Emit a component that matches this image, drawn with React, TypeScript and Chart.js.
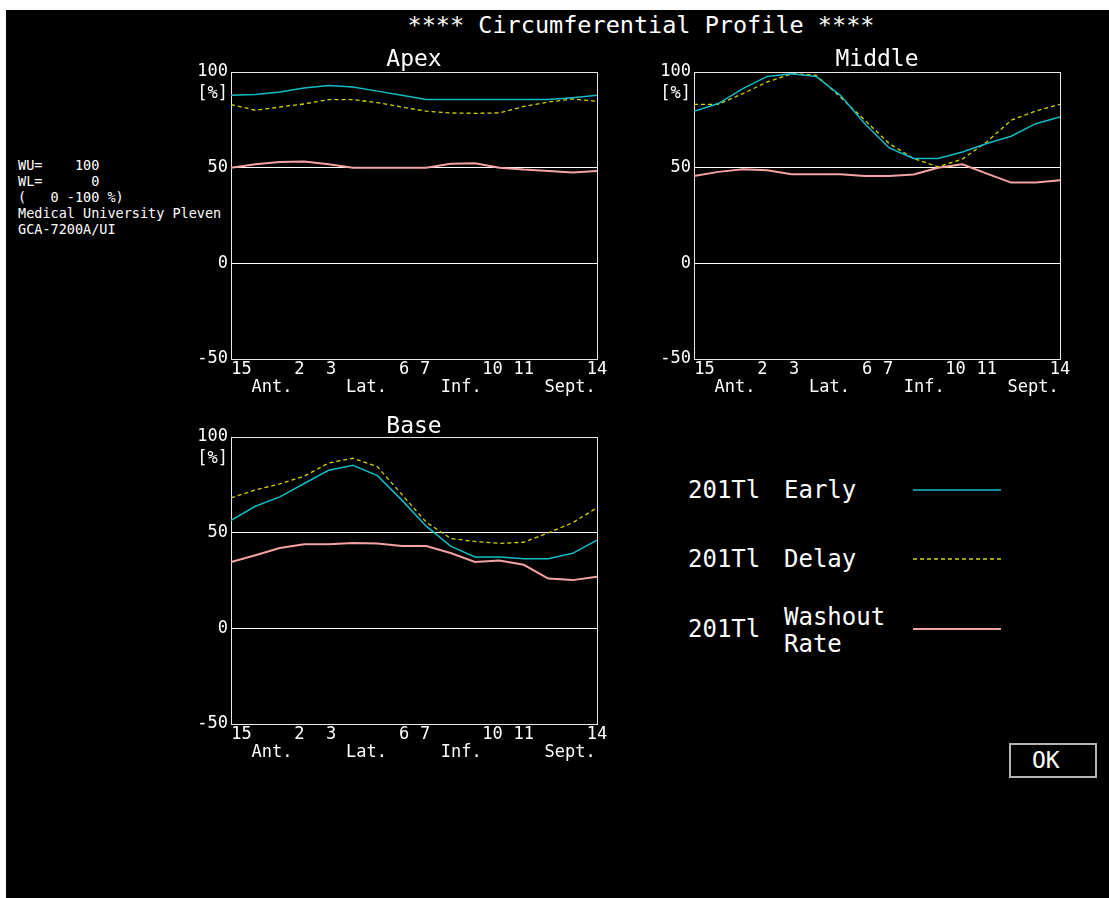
import React, { useEffect, useRef } from "react";
import { Chart, registerables } from "chart.js";

Chart.register(...registerables);

// ---------- data ----------
const SEGMENT_POS = [0, 1, 2, 3, 4, 5, 6, 7, 8, 9, 10, 11, 12, 13, 14, 15];

const NUMBER_TICK_POS = [0.43, 2.8, 4.1, 7.1, 7.96, 10.72, 12.0, 15];
const NUMBER_TICK_LABELS = ["15", "2", "3", "6", "7", "10", "11", "14"];
const REGION_TICK_POS = [1.68, 5.55, 9.44, 13.9];
const REGION_TICK_LABELS = ["Ant.", "Lat.", "Inf.", "Sept."];

const Y_TICK_POS = [-50, 0, 50, 88.5, 100];
const Y_TICK_LABELS = ["-50", "0", "50", "[%]", "100"];
const Y_REF_LINES = [0, 50];

const APEX_EARLY = [87.8, 88.3, 89.6, 91.6, 93, 92.2, 90, 87.8, 85.6, 85.6, 85.6, 85.6, 85.6, 85.6, 86.6, 87.8];
const APEX_DELAY = [83, 80, 81.7, 83.3, 85.6, 85.6, 84, 81.7, 79.5, 78.6, 78.4, 78.6, 82, 84.3, 85.9, 84.7];
const APEX_WASHOUT = [50, 51.8, 53, 53.2, 51.8, 50, 50, 50, 50, 52, 52.3, 50, 49, 48.3, 47.5, 48.3];

const MIDDLE_EARLY = [79.5, 83.5, 91.3, 97.7, 99.1, 97.7, 87.8, 73, 60.3, 54.8, 54.8, 58.2, 62.6, 66.4, 73, 76.5];
const MIDDLE_DELAY = [83.1, 83.1, 88.7, 94.8, 99.1, 98.3, 86.9, 74.8, 62.6, 54.8, 50.4, 54.5, 63.5, 74.8, 79.6, 83.1];
const MIDDLE_WASHOUT = [45.7, 47.8, 49.2, 48.7, 46.6, 46.6, 46.6, 45.7, 45.7, 46.4, 50, 51.8, 46.9, 42.2, 42.2, 43.4];

const BASE_EARLY = [56.4, 63.8, 68.7, 75.7, 82.6, 85.2, 79.8, 67, 53.4, 43, 37.3, 37.3, 36.4, 36.4, 39.2, 46.1];
const BASE_DELAY = [68.2, 72.3, 75.5, 79.5, 86.4, 88.9, 84.5, 70, 55.5, 47, 45.4, 44.4, 45, 49.9, 55.2, 63];
const BASE_WASHOUT = [34.7, 38.2, 42, 43.9, 43.9, 44.6, 44.4, 43, 43, 39.4, 34.7, 35.5, 33.2, 26, 25.2, 27];

const SERIES_NAMES = ["201Tl Early", "201Tl Delay", "201Tl Washout Rate"];

// ---------- styles ----------
const MONO = "'DejaVu Sans Mono', 'Liberation Mono', monospace";
const EARLY_COLOR = "#12bcc6";
const DELAY_COLOR = "#d4d400";
const WASHOUT_COLOR = "#f4a2a2";
const FRAME_COLOR = "#e8e8e8";

const framePlugin = {
  id: "frame",
  beforeDatasetsDraw(chart: any) {
    const { ctx, chartArea } = chart;
    const { left, top, right, bottom } = chartArea;
    ctx.save();
    ctx.strokeStyle = FRAME_COLOR;
    ctx.lineWidth = 1;
    ctx.strokeRect(Math.round(left) + 0.5, Math.round(top) + 0.5, Math.round(right - left), Math.round(bottom - top));
    ctx.restore();
  },
};

function makeConfig(title: string, early: number[], delay: number[], washout: number[], titlePadTop: number): any {
  const toPts = (vals: number[]) => SEGMENT_POS.map((x, i) => ({ x, y: vals[i] }));
  return {
    type: "line",
    data: {
      datasets: [
        {
          label: SERIES_NAMES[0],
          data: toPts(early),
          borderColor: EARLY_COLOR,
          borderWidth: 1.5,
          pointRadius: 0,
          tension: 0,
        },
        {
          label: SERIES_NAMES[1],
          data: toPts(delay),
          borderColor: DELAY_COLOR,
          borderWidth: 1.3,
          borderDash: [4, 3],
          pointRadius: 0,
          tension: 0,
        },
        {
          label: SERIES_NAMES[2],
          data: toPts(washout),
          borderColor: WASHOUT_COLOR,
          borderWidth: 2,
          pointRadius: 0,
          tension: 0,
        },
      ],
    },
    options: {
      animation: false,
      responsive: true,
      maintainAspectRatio: false,
      events: [],
      layout: { padding: { left: 0, right: 23, top: 0, bottom: 3 } },
      plugins: {
        legend: { display: false },
        tooltip: { enabled: false },
        title: {
          display: true,
          fullSize: false,
          text: title,
          color: "#ffffff",
          font: { family: MONO, size: 23, weight: "normal", lineHeight: 18 / 23 },
          padding: { top: titlePadTop, bottom: 32 - 18 - titlePadTop },
        },
      },
      scales: {
        x: {
          type: "linear",
          position: "bottom",
          weight: 0,
          min: 0,
          max: 15,
          grid: { display: false, drawTicks: false },
          border: { display: false },
          afterBuildTicks: (axis: any) => {
            axis.ticks = NUMBER_TICK_POS.map((v) => ({ value: v }));
          },
          afterFit: (axis: any) => {
            axis.height = 19;
          },
          ticks: {
            autoSkip: false,
            maxRotation: 0,
            minRotation: 0,
            padding: 2,
            color: "#ffffff",
            font: { family: MONO, size: 17, lineHeight: 1 },
            callback: (_v: any, i: number) => NUMBER_TICK_LABELS[i],
          },
        },
        x2: {
          type: "linear",
          position: "bottom",
          weight: 1,
          min: 0,
          max: 15,
          grid: { display: false, drawTicks: false },
          border: { display: false },
          afterBuildTicks: (axis: any) => {
            axis.ticks = REGION_TICK_POS.map((v) => ({ value: v }));
          },
          afterFit: (axis: any) => {
            axis.height = 19;
          },
          ticks: {
            autoSkip: false,
            maxRotation: 0,
            minRotation: 0,
            padding: 1,
            color: "#ffffff",
            font: { family: MONO, size: 17, lineHeight: 1 },
            callback: (_v: any, i: number) => REGION_TICK_LABELS[i],
          },
        },
        y: {
          type: "linear",
          position: "left",
          min: -50,
          max: 100,
          border: { display: false },
          grid: {
            drawTicks: false,
            lineWidth: 1,
            color: (ctx: any) =>
              ctx.tick && Y_REF_LINES.includes(ctx.tick.value) ? "#ffffff" : "rgba(0,0,0,0)",
          },
          afterBuildTicks: (axis: any) => {
            axis.ticks = Y_TICK_POS.map((v) => ({ value: v }));
          },
          afterFit: (axis: any) => {
            axis.width = 51;
          },
          ticks: {
            autoSkip: false,
            padding: 3,
            color: "#ffffff",
            font: { family: MONO, size: 17, lineHeight: 1 },
            callback: (_v: any, i: number) => Y_TICK_LABELS[i],
          },
        },
      },
    },
    plugins: [framePlugin],
  };
}

function ProfileChart(props: {
  title: string;
  early: number[];
  delay: number[];
  washout: number[];
  left: number;
  top: number;
  titlePadTop: number;
}) {
  const ref = useRef<HTMLCanvasElement | null>(null);
  useEffect(() => {
    if (!ref.current) return;
    const chart = new Chart(ref.current, makeConfig(props.title, props.early, props.delay, props.washout, props.titlePadTop));
    return () => chart.destroy();
  }, []);
  return (
    <div style={{ position: "absolute", left: props.left, top: props.top, width: 440, height: 360 }}>
      <canvas ref={ref} />
    </div>
  );
}

const txt: React.CSSProperties = {
  position: "absolute",
  color: "#ffffff",
  fontFamily: MONO,
  whiteSpace: "pre",
  margin: 0,
};

export default function App() {
  return (
    <div style={{ position: "fixed", left: 0, top: 0, width: 1109, height: 898, background: "#ffffff", overflow: "hidden" }}>
      <div style={{ position: "absolute", left: 6, top: 10, width: 1103, height: 888, background: "#000000" }} />

      <div
        style={{
          ...txt,
          left: 641,
          top: 14,
          transform: "translateX(-50%)",
          fontSize: 23.5,
          lineHeight: "23px",
        }}
      >
        {"**** Circumferential Profile ****"}
      </div>

      <pre style={{ ...txt, left: 18, top: 157, fontSize: 13.5, lineHeight: "16px" }}>
        {"WU=    100\nWL=      0\n(   0 -100 %)\nMedical University Pleven\nGCA-7200A/UI"}
      </pre>

      <ProfileChart title="Apex" early={APEX_EARLY} delay={APEX_DELAY} washout={APEX_WASHOUT} left={180} top={40} titlePadTop={11.5} />
      <ProfileChart title="Middle" early={MIDDLE_EARLY} delay={MIDDLE_DELAY} washout={MIDDLE_WASHOUT} left={643} top={40} titlePadTop={11.5} />
      <ProfileChart title="Base" early={BASE_EARLY} delay={BASE_DELAY} washout={BASE_WASHOUT} left={180} top={405} titlePadTop={13.5} />

      {/* legend */}
      <div style={{ ...txt, left: 688, top: 478, fontSize: 24, lineHeight: "24px" }}>201Tl</div>
      <div style={{ ...txt, left: 784, top: 478, fontSize: 24, lineHeight: "24px" }}>Early</div>
      <div style={{ ...txt, left: 688, top: 547, fontSize: 24, lineHeight: "24px" }}>201Tl</div>
      <div style={{ ...txt, left: 784, top: 547, fontSize: 24, lineHeight: "24px" }}>Delay</div>
      <div style={{ ...txt, left: 688, top: 617, fontSize: 24, lineHeight: "24px" }}>201Tl</div>
      <div style={{ ...txt, left: 784, top: 604, fontSize: 24, lineHeight: "27px" }}>{"Washout\nRate"}</div>
      <svg style={{ position: "absolute", left: 913, top: 480 }} width={90} height={160}>
        <line x1={0} y1={10} x2={88} y2={10} stroke={EARLY_COLOR} strokeWidth={1.5} />
        <line x1={0} y1={79} x2={88} y2={79} stroke={DELAY_COLOR} strokeWidth={1.3} strokeDasharray="4 3" />
        <line x1={0} y1={149} x2={88} y2={149} stroke={WASHOUT_COLOR} strokeWidth={2} />
      </svg>

      {/* OK button */}
      <div
        style={{
          position: "absolute",
          left: 1009,
          top: 743,
          width: 88,
          height: 35,
          boxSizing: "border-box",
          border: "2px solid #b4b4b4",
        }}
      />
      <div style={{ ...txt, left: 1032, top: 749, fontSize: 23, lineHeight: "23px" }}>OK</div>
    </div>
  );
}
